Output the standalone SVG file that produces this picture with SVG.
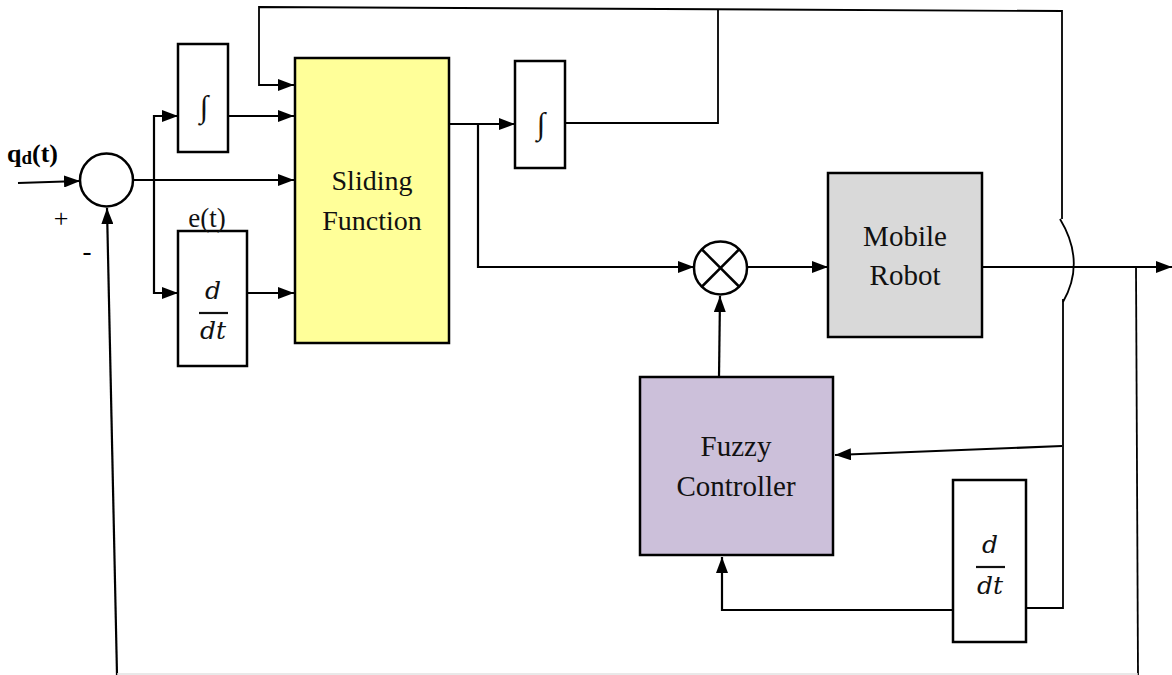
<svg xmlns="http://www.w3.org/2000/svg" width="1172" height="675" viewBox="0 0 1172 675">
<style>
.blk{stroke:#000;stroke-width:2.5}
.ln{fill:none;stroke:#000;stroke-width:2.2}
.thin{fill:none;stroke:#000;stroke-width:1.8}
</style>
<defs>
<marker id="ah" viewBox="0 0 16 12" refX="16" refY="6" markerWidth="16" markerHeight="12" markerUnits="userSpaceOnUse" orient="auto">
<path d="M0,0 L16,6 L0,12 z" fill="#000"/>
</marker>
</defs>
<rect width="1172" height="675" fill="#fff"/>

<g id="connectors">
<path class="ln" d="M18,183 L80,181" marker-end="url(#ah)"/>
<path class="ln" d="M133,180 L294,180" marker-end="url(#ah)"/>
<path class="ln" d="M154,180 L154,116 L178,116" marker-end="url(#ah)"/>
<path class="ln" d="M154,180 L154,293 L178,293" marker-end="url(#ah)"/>
<path class="ln" d="M228,116 L294,116" marker-end="url(#ah)"/>
<path class="ln" d="M247,293 L294,293" marker-end="url(#ah)"/>
<path class="thin" d="M1062,219 L1062,11 L259,7 L259,85 L294,85" marker-end="url(#ah)"/>
<path class="thin" d="M1060,219 Q1086,262 1063,302"/>
<path class="thin" d="M1063,299 L1063,608 L1025,608"/>
<path class="ln" d="M1062,446 L835,455" marker-end="url(#ah)"/>
<path class="thin" d="M565,123 L718,123 L718,10"/>
<path class="ln" d="M449,124 L515,124" marker-end="url(#ah)"/>
<path class="ln" d="M478,124 L478,267 L694,267" marker-end="url(#ah)"/>
<path class="ln" d="M747,267 L828,267" marker-end="url(#ah)"/>
<path class="ln" d="M983,267 L1172,267" marker-end="url(#ah)"/>
<path class="thin" d="M1136,267 L1138,675"/>
<path class="ln" d="M719,377 L720,296" marker-end="url(#ah)"/>
<path class="ln" d="M953,610 L722,610 L722,557" marker-end="url(#ah)"/>
<path class="ln" d="M117,675 L107,208" marker-end="url(#ah)"/>
<path d="M117,674 L1138,674" stroke="#e2e2e2" stroke-width="1.5" fill="none"/>
</g>

<g id="sum">
<circle cx="106.5" cy="180" r="26.5" fill="#fff" class="blk"/>
</g>
<g id="labels-input" font-family="'Liberation Serif', serif" fill="#000">
<text x="7" y="162" font-weight="bold" font-size="26">q<tspan font-size="19" dy="2">d</tspan><tspan dy="-2">(t)</tspan></text>
<text x="61" y="227" font-size="26" text-anchor="middle">+</text>
<text x="87" y="260" font-size="27" text-anchor="middle">-</text>
</g>

<g id="integrator1">
<rect x="178" y="44" width="50" height="108" fill="#fff" class="blk"/>
<text x="204" y="117" font-size="31" font-family="'Liberation Serif', serif" text-anchor="middle" fill="#111">∫</text>
</g>

<g id="derivative1" font-family="'Liberation Serif', serif" fill="#111" text-anchor="middle">
<rect x="178" y="231" width="69" height="135" fill="#fff" class="blk"/>
<text x="207" y="227" font-size="27">e(t)</text>
<text x="213" y="299" font-size="25" font-style="italic" font-family="'DejaVu Serif', serif">d</text>
<line x1="199" y1="313" x2="228" y2="313" stroke="#111" stroke-width="2.2"/>
<text x="213" y="339" font-size="25" font-style="italic" font-family="'DejaVu Serif', serif">dt</text>
</g>

<g id="sliding" font-family="'Liberation Serif', serif" fill="#111" text-anchor="middle">
<rect x="295" y="58" width="154" height="285" fill="#ffff99" class="blk"/>
<text x="372" y="190" font-size="28">Sliding</text>
<text x="372" y="230" font-size="28">Function</text>
</g>

<g id="integrator2">
<rect x="515" y="61" width="50" height="107" fill="#fff" class="blk"/>
<text x="541" y="134" font-size="31" font-family="'Liberation Serif', serif" text-anchor="middle" fill="#111">∫</text>
</g>

<g id="multiplier">
<circle cx="720.5" cy="268" r="26.5" fill="#fff" class="blk"/>
<line x1="701.5" y1="249" x2="739.5" y2="287" class="blk"/>
<line x1="739.5" y1="249" x2="701.5" y2="287" class="blk"/>
</g>

<g id="robot" font-family="'Liberation Serif', serif" fill="#111" text-anchor="middle">
<rect x="828" y="173" width="154" height="164" fill="#d9d9d9" class="blk"/>
<text x="905" y="246" font-size="29">Mobile</text>
<text x="905" y="285" font-size="29">Robot</text>
</g>

<g id="fuzzy" font-family="'Liberation Serif', serif" fill="#111" text-anchor="middle">
<rect x="640" y="377" width="193" height="178" fill="#ccc0da" class="blk"/>
<text x="736" y="456" font-size="29">Fuzzy</text>
<text x="736" y="496" font-size="29">Controller</text>
</g>

<g id="derivative2" font-family="'DejaVu Serif', serif" fill="#111" text-anchor="middle">
<rect x="953" y="480" width="73" height="162" fill="#fff" class="blk"/>
<text x="990" y="553" font-size="25" font-style="italic">d</text>
<line x1="976" y1="567" x2="1005" y2="567" stroke="#111" stroke-width="2.2"/>
<text x="990" y="594" font-size="25" font-style="italic">dt</text>
</g>
</svg>
